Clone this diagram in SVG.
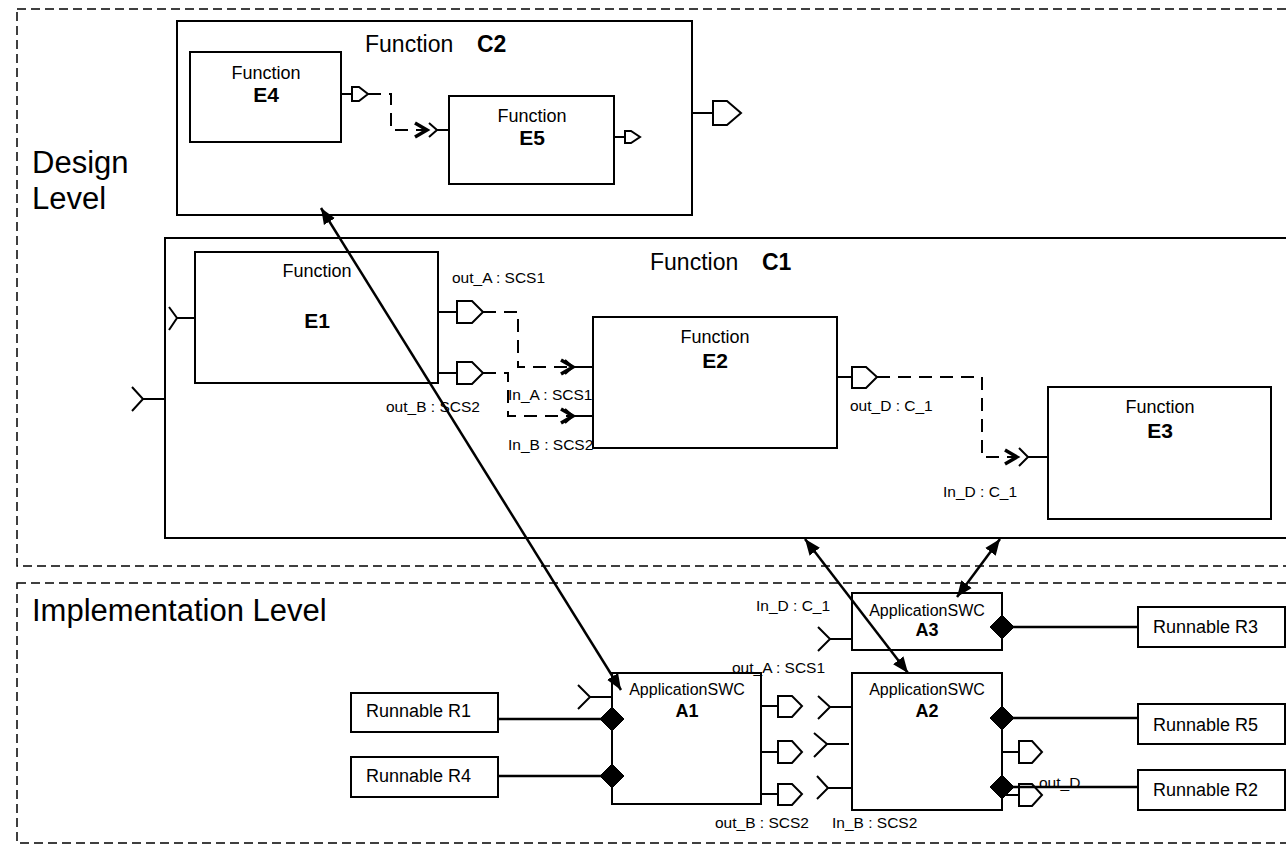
<svg xmlns="http://www.w3.org/2000/svg" width="1286" height="844" viewBox="0 0 1286 844">
<defs>
<style>
.lvl{fill:none;stroke:#000;stroke-width:1.5;stroke-dasharray:9 5}
.box{fill:#fff;stroke:#000;stroke-width:2}
.pp{fill:#fff;stroke:#000;stroke-width:2;stroke-linejoin:miter}
.rp{fill:none;stroke:#000;stroke-width:2}
.ln{fill:none;stroke:#000;stroke-width:2}
.dsh{fill:none;stroke:#000;stroke-width:2;stroke-dasharray:13 8}
.dia{fill:#000;stroke:#000;stroke-width:1}
.lnk{fill:none;stroke:#000;stroke-width:2.5}
text{font-family:"Liberation Sans",Arial,Helvetica,sans-serif;fill:#000}
.big{font-size:31px}
.ttl{font-size:23px}
.fn{font-size:18px;text-anchor:middle}
.fb{font-size:21px;font-weight:bold;text-anchor:middle}
.sw{font-size:16px;text-anchor:middle}
.sb{font-size:18px;font-weight:bold;text-anchor:middle}
.lb{font-size:15.5px}
.rn{font-size:18px}
</style>
<marker id="chev" markerUnits="userSpaceOnUse" markerWidth="20" markerHeight="20" refX="14" refY="10" orient="auto">
<path d="M2,3 L14,10 L2,17" fill="none" stroke="#000" stroke-width="3.5"/>
</marker>
<marker id="tri" markerUnits="userSpaceOnUse" markerWidth="20" markerHeight="16" refX="16" refY="8" orient="auto-start-reverse">
<path d="M0,1.5 L16,8 L0,14.5 Z" fill="#000"/>
</marker>
</defs>

<g id="design-level">
<rect class="lvl" x="17" y="9" width="1290" height="557"/>
<text class="big" x="32" y="173">Design</text>
<text class="big" x="32" y="209">Level</text>
</g>
<g id="implementation-level">
<rect class="lvl" x="17" y="583" width="1290" height="260"/>
<text class="big" x="32" y="621">Implementation Level</text>
</g>

<g id="C2">
<rect class="box" x="177" y="21" width="515" height="194"/>
<text class="ttl" x="365" y="52">Function</text>
<text class="ttl" x="477" y="52" font-weight="bold">C2</text>
<path class="ln" d="M692,113 H713"/>
<path class="pp" d="M713,101 H727 L741,113 L727,125 H713 Z"/>
</g>
<g id="E4">
<rect class="box" x="190" y="52" width="151" height="90"/>
<text class="fn" x="266" y="79">Function</text>
<text class="fb" x="266" y="102">E4</text>
<path class="ln" d="M341,94 H352"/>
<path class="pp" d="M352,87 H359 L368,94 L359,101 H352 Z"/>
</g>
<g id="E5">
<rect class="box" x="449" y="96" width="165" height="88"/>
<text class="fn" x="532" y="122">Function</text>
<text class="fb" x="532" y="145">E5</text>
<path class="rp" d="M429,123 L437,130 L429,137 M437,130 H449"/>
<path class="ln" d="M614,137 H625"/>
<path class="pp" d="M625,131 H631 L640,137 L631,143 H625 Z"/>
</g>

<g id="C1">
<rect class="box" x="165" y="238" width="1140" height="300"/>
<text class="ttl" x="650" y="270">Function</text>
<text class="ttl" x="762" y="270" font-weight="bold">C1</text>
<path class="rp" d="M132,387 L143,399 L132,411 M143,399 H165"/>
</g>
<g id="E1">
<rect class="box" x="195" y="252" width="243" height="131"/>
<text class="fn" x="317" y="277">Function</text>
<text class="fb" x="317" y="328">E1</text>
<path class="rp" d="M169,307 L177,318 L169,330 M177,318 H195"/>
<path class="ln" d="M438,312 H457 M438,373 H457"/>
<path class="pp" d="M457,301 H472 L483,312 L472,323 H457 Z"/>
<path class="pp" d="M457,362 H472 L483,373 L472,384 H457 Z"/>
<text class="lb" x="452" y="283">out_A : SCS1</text>
<text class="lb" x="386" y="412">out_B : SCS2</text>
</g>
<g id="E2">
<rect class="box" x="593" y="317" width="244" height="131"/>
<text class="fn" x="715" y="343">Function</text>
<text class="fb" x="715" y="368">E2</text>
<path class="rp" d="M565,360 L573,367 L565,374 M573,367 H593 M565,409 L573,416 L565,423 M573,416 H593"/>
<path class="ln" d="M837,377 H852"/>
<path class="pp" d="M852,367 H866 L877,377 L866,388 H852 Z"/>
<text class="lb" x="508" y="400">In_A : SCS1</text>
<text class="lb" x="508" y="450">In_B : SCS2</text>
<text class="lb" x="850" y="411">out_D : C_1</text>
</g>
<g id="E3">
<rect class="box" x="1048" y="387" width="223" height="132"/>
<text class="fn" x="1160" y="413">Function</text>
<text class="fb" x="1160" y="438">E3</text>
<path class="rp" d="M1019,448 L1028,457 L1019,466 M1028,457 H1048"/>
<text class="lb" x="943" y="497">In_D : C_1</text>
</g>

<g id="A1">
<rect class="box" x="612" y="673" width="149" height="131"/>
<text class="sw" x="687" y="695">ApplicationSWC</text>
<text class="sb" x="687" y="717">A1</text>
<path class="rp" d="M578,685 L590,697 L578,709 M590,697 H612"/>
<path class="ln" d="M761,706 H778 M761,752 H778 M761,794 H778"/>
<path class="pp" d="M778,696 H792 L802,706 L792,717 H778 Z"/>
<path class="pp" d="M778,741 H792 L802,752 L792,763 H778 Z"/>
<path class="pp" d="M778,784 H792 L802,794 L792,805 H778 Z"/>
<text class="lb" x="732" y="673">out_A : SCS1</text>
<text class="lb" x="715" y="828">out_B : SCS2</text>
</g>
<g id="A2">
<rect class="box" x="852" y="673" width="150" height="137"/>
<text class="sw" x="927" y="695">ApplicationSWC</text>
<text class="sb" x="927" y="717">A2</text>
<path class="rp" d="M818,696 L830,707 L818,719 M830,707 H852"/>
<path class="rp" d="M814,733 L827,744 L814,757 M827,744 H849"/>
<path class="rp" d="M817,776 L828,788 L817,799 M828,788 H852"/>
<path class="ln" d="M1002,752 H1019 M1002,795 H1019"/>
<path class="pp" d="M1019,741 H1032 L1042,752 L1032,763 H1019 Z"/>
<path class="pp" d="M1019,784 H1032 L1042,795 L1032,806 H1019 Z"/>
<text class="lb" x="832" y="828">In_B : SCS2</text>
<text class="lb" x="1039" y="788">out_D</text>
</g>
<g id="A3">
<rect class="box" x="852" y="593" width="150" height="57"/>
<text class="sw" x="927" y="616">ApplicationSWC</text>
<text class="sb" x="927" y="636">A3</text>
<path class="rp" d="M818,627 L830,639 L818,651 M830,639 H852"/>
<text class="lb" x="756" y="611">In_D : C_1</text>
</g>

<g id="R1">
<rect class="box" x="351" y="693" width="147" height="39"/>
<text class="rn" x="366" y="717">Runnable R1</text>
</g>
<g id="R4">
<rect class="box" x="351" y="757" width="147" height="40"/>
<text class="rn" x="366" y="782">Runnable R4</text>
</g>
<g id="R3">
<rect class="box" x="1138" y="607" width="147" height="40"/>
<text class="rn" x="1153" y="633">Runnable R3</text>
</g>
<g id="R5">
<rect class="box" x="1138" y="704" width="147" height="40"/>
<text class="rn" x="1153" y="731">Runnable R5</text>
</g>
<g id="R2">
<rect class="box" x="1138" y="770" width="147" height="40"/>
<text class="rn" x="1153" y="796">Runnable R2</text>
</g>

<g id="connectors">
<path class="dsh" d="M368,94 H391 V130 H427" marker-end="url(#chev)"/>
<path class="dsh" d="M483,312 H518 V367 H573" marker-end="url(#chev)"/>
<path class="dsh" d="M483,373 H508 V416 H573" marker-end="url(#chev)"/>
<path class="dsh" d="M877,377 H982 V457 H1017" marker-end="url(#chev)"/>
<path class="lnk" d="M498,719 H612"/>
<path class="lnk" d="M498,776 H612"/>
<path class="lnk" d="M1002,627 H1138"/>
<path class="lnk" d="M1002,718 H1138"/>
<path class="lnk" d="M1002,787 H1138"/>
<polygon class="dia" points="600,719 612,707 624,719 612,731"/>
<polygon class="dia" points="600,776 612,764 624,776 612,788"/>
<polygon class="dia" points="990,627 1002,615 1014,627 1002,639"/>
<polygon class="dia" points="990,718 1002,706 1014,718 1002,730"/>
<polygon class="dia" points="990,787 1002,775 1014,787 1002,799"/>
<path class="lnk" d="M321,208 L621,690" marker-start="url(#tri)" marker-end="url(#tri)"/>
<path class="lnk" d="M805,539 L908,673" marker-start="url(#tri)" marker-end="url(#tri)"/>
<path class="lnk" d="M1000,539 L957,597" marker-start="url(#tri)" marker-end="url(#tri)"/>
</g>
</svg>
